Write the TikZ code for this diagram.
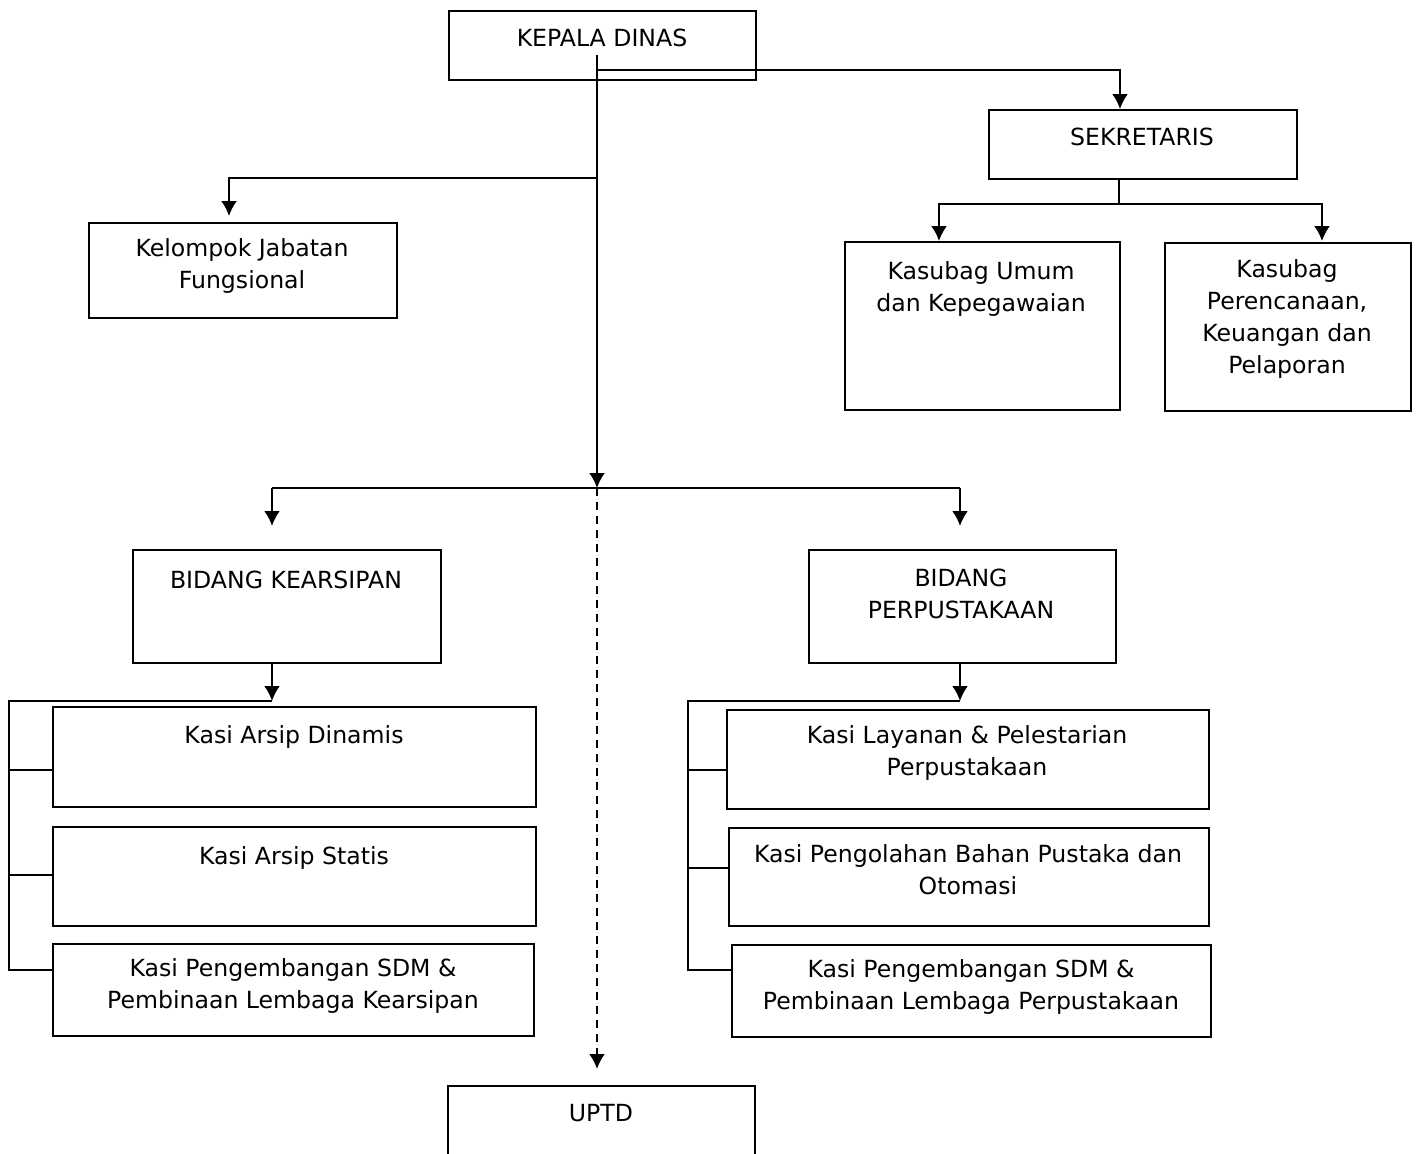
\documentclass[tikz,border=0pt]{standalone}
\usepackage{fontspec}
\setmainfont{DejaVu Sans}
\usetikzlibrary{arrows.meta}

\begin{document}
\begin{tikzpicture}[x=0.5pt, y=-0.5pt, line width=1.1pt,
    unit/.style={draw, line width=1.2pt, anchor=north west, inner sep=0pt},
    txt/.style={align=center, inner sep=0pt, font=\fontsize{11.8}{16}\selectfont},
    arr/.style={-{Latex[length=7.5pt, width=8pt]}}]
            \useasboundingbox (0,0) rectangle (1417,1153);
            % boxes
            \node [unit, minimum width=153.5pt, minimum height=34.5pt] (kd) at (448,10) {};
            \node [txt] (kdt) at (602,38) {KEPALA DINAS};
            \node [unit, minimum width=154pt, minimum height=34.5pt] (sek) at (988,109) {};
            \node [txt] (sekt) at (1142,137) {SEKRETARIS};
            \node [unit, minimum width=154pt, minimum height=47.5pt] (kjf) at (88,222) {};
            \node [txt] (kjft) at (242,266) {Kelompok Jabatan\\Fungsional};
            \node [unit, minimum width=137.5pt, minimum height=84pt] (kum) at (844,241) {};
            \node [txt] (kumt) at (981,289) {Kasubag Umum\\dan Kepegawaian};
            \node [unit, minimum width=123pt, minimum height=84pt] (kpk) at (1164,242) {};
            \node [txt] (kpkt) at (1287,319) {Kasubag\\Perencanaan,\\Keuangan dan\\Pelaporan};
            \node [unit, minimum width=154pt, minimum height=56.5pt] (bk) at (132,549) {};
            \node [txt] (bkt) at (286,580) {BIDANG KEARSIPAN};
            \node [unit, minimum width=153.5pt, minimum height=56.5pt] (bp) at (808,549) {};
            \node [txt] (bpt) at (961,594) {BIDANG\\PERPUSTAKAAN};
            \node [unit, minimum width=241.5pt, minimum height=50pt] (kad) at (52,706) {};
            \node [txt] (kadt) at (294,737) {Kasi Arsip Dinamis};
            \node [unit, minimum width=241.5pt, minimum height=49.5pt] (kas) at (52,826) {};
            \node [txt] (kast) at (294,858) {Kasi Arsip Statis};
            \node [unit, minimum width=240.5pt, minimum height=46pt] (kpa) at (52,943) {};
            \node [txt] (kpat) at (293,986) {Kasi Pengembangan SDM \&\\Pembinaan Lembaga Kearsipan};
            \node [unit, minimum width=241pt, minimum height=49.5pt] (klp) at (726,709) {};
            \node [txt] (klpt) at (967,753) {Kasi Layanan \& Pelestarian\\Perpustakaan};
            \node [unit, minimum width=240pt, minimum height=49pt] (kpb) at (728,827) {};
            \node [txt] (kpbt) at (968,870) {Kasi Pengolahan Bahan Pustaka dan\\Otomasi};
            \node [unit, minimum width=239.5pt, minimum height=46pt] (kpp) at (731,944) {};
            \node [txt] (kppt) at (971,987) {Kasi Pengembangan SDM \&\\Pembinaan Lembaga Perpustakaan};
            \node [unit, minimum width=153.5pt, minimum height=50pt] (uptd) at (447,1085) {};
            \node [txt] (uptdt) at (601,1113) {UPTD};
            % joints
            \coordinate (kdi) at (597,55);
            \coordinate (jf) at (597,178);
            \coordinate (af) at (229,216);
            \coordinate (jb) at (597,488);
            \coordinate (abk) at (272,526);
            \coordinate (abp) at (960,526);
            \coordinate (au) at (597,1069);
            \coordinate (js) at (597,70);
            \coordinate (as) at (1120,109);
            \coordinate (jk) at (1119,204);
            \coordinate (akum) at (939,241);
            \coordinate (akpk) at (1322,241);
            \coordinate (akb) at (272,701);
            \coordinate (akp) at (960,701);
            \coordinate (lk) at (9,701);
            \coordinate (lp) at (688,701);
            % connectors
            \draw [arr] (kdi) -- (jb);
            \draw [arr] (jf) -| (af);
            \draw [arr] (js) -| (as);
            \draw (sek.south -| jk) -- (jk);
            \draw [arr] (jk) -| (akum);
            \draw [arr] (jk) -| (akpk);
            \draw [arr] (abk |- jb) -- (abk);
            \draw (abk |- jb) -- (abp |- jb);
            \draw [arr] (abp |- jb) -- (abp);
            \draw [arr, dash pattern=on 4pt off 3pt] (jb) -- (au);
            \draw [arr] (akb |- bk.south) -- (akb);
            \draw (akb) -- (lk) -- (lk |- 0,970) -- (kpa.west |- 0,970);
            \draw (lk |- 0,770) -- (kad.west |- 0,770);
            \draw (lk |- 0,875) -- (kas.west |- 0,875);
            \draw [arr] (akp |- bp.south) -- (akp);
            \draw (akp) -- (lp) -- (lp |- 0,970) -- (kpp.west |- 0,970);
            \draw (lp |- 0,770) -- (klp.west |- 0,770);
            \draw (lp |- 0,868) -- (kpb.west |- 0,868);
\end{tikzpicture}
\end{document}
